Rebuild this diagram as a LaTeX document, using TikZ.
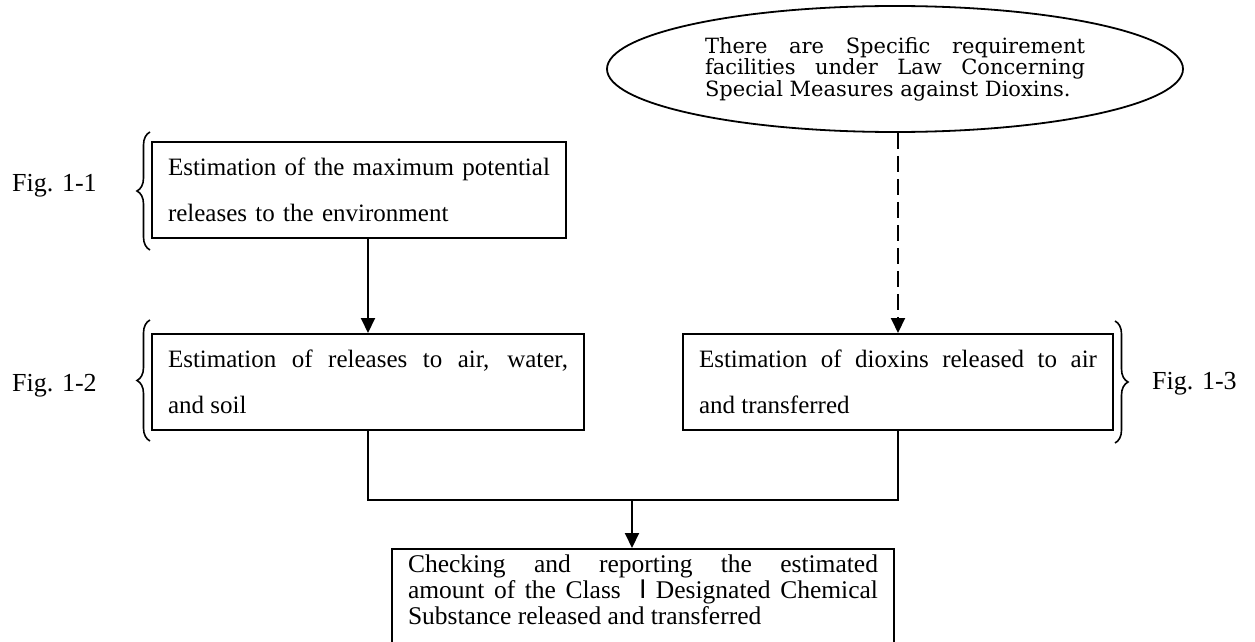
\documentclass[tikz,border=0pt]{standalone}
\usepackage{fontspec}
\setmainfont{Liberation Serif}
\newfontfamily\cjkfont{Noto Sans CJK JP}
\newfontfamily\lawfont{DejaVu Serif}
\usetikzlibrary{arrows.meta,shapes.geometric,decorations.pathreplacing}

\begin{document}
\begin{tikzpicture}[x=1pt,y=-1pt,
  stepbox/.style={draw,line width=2pt,anchor=north west,inner xsep=16pt,inner ysep=0pt,
    minimum height=96pt,align=justify,font=\fontsize{25}{46}\selectfont},
  finalbox/.style={draw,line width=2pt,anchor=north west,inner xsep=16pt,inner ysep=6pt,
    align=justify,font=\fontsize{25.5}{26}\selectfont},
  figlabel/.style={anchor=west,inner sep=0pt,font=\fontsize{26}{30}\selectfont},
  conn/.style={line width=2pt},
  arr/.style={conn,-{Triangle[length=15pt,width=14pt]}},
  dasharr/.style={arr,dash pattern=on 16pt off 7pt},
  bracket/.style={line width=1.6pt,decorate,decoration={brace,amplitude=13pt}}]

\useasboundingbox (0,0) rectangle (1255,642);
\clip (0,0) rectangle (1255,642);

% condition ellipse
\node[ellipse,draw,line width=1.8pt,minimum width=576pt,minimum height=126pt,inner sep=0pt,
      text width=380pt,align=justify,font=\lawfont\fontsize{21}{21.5}\selectfont]
  (law) at (895,69) {There are Specific requirement\linebreak facilities under Law Concerning\linebreak Special Measures against Dioxins.};

% estimation steps
\node[stepbox,text width=382pt,align=left] (b1) at (151,141)
  {Estimation of the maximum potential\\releases to the environment};
\node[stepbox,text width=400pt] (b2) at (151,333)
  {Estimation of releases to air, water,\linebreak and soil};
\node[stepbox,text width=398pt] (b3) at (682,333)
  {Estimation of dioxins released to air\linebreak and transferred};

% final check
\node[finalbox,text width=470pt] (chk) at (391,548)
  {Checking and reporting the estimated\linebreak amount of the Class {\cjkfont Ⅰ}Designated Chemical\linebreak Substance released and transferred\rule[-40pt]{0pt}{0pt}};

% figure references
\node[figlabel] (f1) at (12,186) {Fig. 1-1};
\node[figlabel] (f2) at (12,386) {Fig. 1-2};
\node[figlabel] (f3) at (1152,384) {Fig. 1-3};

\draw[bracket] ([shift={(-1,11)}]b1.south west) -- ([shift={(-1,-9)}]b1.north west);
\draw[bracket] ([shift={(-1,10)}]b2.south west) -- ([shift={(-1,-13)}]b2.north west);
\draw[bracket] ([shift={(1,-12)}]b3.north east) -- ([shift={(1,12)}]b3.south east);

% connectors
\coordinate (c1) at (368,0);
\coordinate (j) at (632,500);
\draw[arr] (b1.south -| c1) -- (b2.north -| c1);
\draw[dasharr] (b3.north |- law.south) -- (b3.north);
\draw[conn] (b2.south -| c1) |- (j) -| (b3.south);
\draw[arr] (j) -- (j |- chk.north);

\end{tikzpicture}
\end{document}
